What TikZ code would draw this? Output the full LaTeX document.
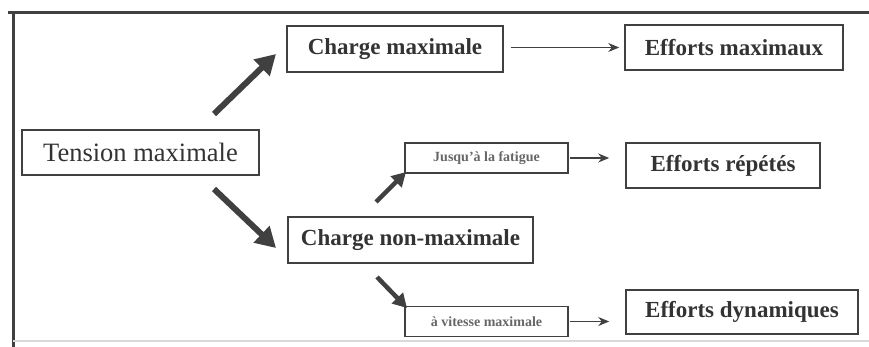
\documentclass[tikz,border=0pt]{standalone}
\usepackage{fontspec}
\setmainfont{Liberation Serif}
\usetikzlibrary{arrows, arrows.meta}

\begin{document}
\begin{tikzpicture}[x = 1pt, y = -1pt, % one unit = one pixel
                > = stealth, % thin arrow head style
                semithick % line style
            ]

            \tikzstyle{every node}=[draw = black!75, line width = 1.6pt,
            inner sep = 0pt, text = black!80]
            \tikzstyle{big}=[font = \fontsize{23}{26}\selectfont\bfseries]
            \tikzstyle{small}=[font = \fontsize{14}{16}\selectfont\bfseries,
            text = black!60]
            \tikzstyle{thick arrow}=[draw = black!75, line width = 6pt,
            -{Triangle[length = 20pt, width = 22pt]}]
            \tikzstyle{thin arrow}=[draw = black!75, line width = 1.4pt,
            -{Stealth[length = 11pt, width = 9pt]}]

            \useasboundingbox (0,0) rectangle (869,347);

            % frame
            \draw[black!75, line width = 3pt] (8,13) -- (869,13);
            \draw[black!75, line width = 3pt] (13,13) -- (13,347);
            \draw[black!15, line width = 2pt] (13,341) -- (869,341);

            \node[minimum width = 237pt, minimum height = 45pt,
            font = \fontsize{26.5}{30}\selectfont] (tm) at (140.5,152.5)
            {Tension maximale};
            \node[big, minimum width = 216pt, minimum height = 46pt] (cm) at
            (395,49) {Charge maximale};
            \node[big, minimum width = 218pt, minimum height = 45pt] (em) at
            (734,47.5) {Efforts maximaux};
            \node[big, minimum width = 245pt, minimum height = 46pt] (cn) at
            (410.5,240) {Charge non-maximale};
            \node[small, minimum width = 163pt, minimum height = 30pt] (jf) at
            (486.5,158) {Jusqu'à la fatigue};
            \node[big, minimum width = 194pt, minimum height = 45pt] (er) at
            (723,165.5) {Efforts répétés};
            \node[small, minimum width = 163pt, minimum height = 30pt] (vm) at
            (486.5,321.5) {à vitesse maximale};
            \node[big, minimum width = 232pt, minimum height = 44pt] (ed) at
            (742,312) {Efforts dynamiques};

            \coordinate (t1) at (214,114); \coordinate (h1) at (276,54);
            \coordinate (t2) at (214,189); \coordinate (h2) at (276,248);
            \coordinate (t3) at (376,202); \coordinate (h3) at (406,172);
            \coordinate (t4) at (377,277); \coordinate (h4) at (407,308);

            \draw[thick arrow] (t1) -- (h1);
            \draw[thick arrow] (t2) -- (h2);
            \draw[thick arrow, line width = 4.5pt,
            -{Triangle[length = 14pt, width = 15pt]}] (t3) -- (h3);
            \draw[thick arrow, line width = 4.5pt,
            -{Triangle[length = 14pt, width = 15pt]}] (t4) -- (h4);

            \draw[thin arrow, shorten < = 7pt, shorten > = 5pt] (cm.east |- em)
            -- (em.west);
            \draw[thin arrow, shorten < = 1pt, shorten > = 16pt] (jf.east) --
            (jf.east -| er.west);
            \draw[thin arrow, shorten < = 1pt, shorten > = 16pt] (vm.east) --
            (vm.east -| ed.west);
        \end{tikzpicture}
\end{document}
